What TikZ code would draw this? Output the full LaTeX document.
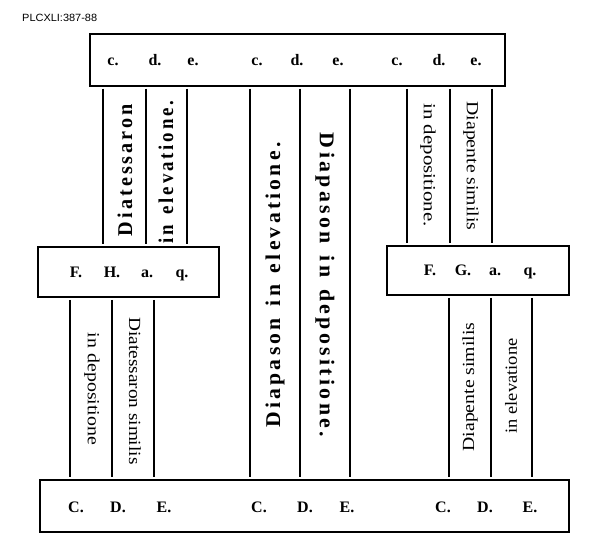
\documentclass[tikz,border=0pt]{standalone}
\usepackage{fontspec}
\setmainfont{Liberation Serif}
\newfontfamily\spacedf[LetterSpace=15]{Liberation Serif}
\newfontfamily\headf{Liberation Sans}
\newcommand{\fitw}[2]{\resizebox{#1pt}{\height}{#2}}
\newcommand{\wgap}{\hspace{0.55em}}
\begin{document}
\begin{tikzpicture}[x=1pt,y=-1pt,
  box/.style={draw, line width=1.5pt, inner sep=0pt},
  lab/.style={font=\bfseries\fontsize{16}{16}\selectfont, inner sep=0pt, anchor=base},
  rule/.style={line width=1.5pt, shorten <=2pt, shorten >=2pt},
  mtext/.style={inner sep=0pt, font=\spacedf\bfseries\fontsize{21}{21}\selectfont},
  stext/.style={inner sep=0pt, font=\fontsize{17}{17}\selectfont}]
\useasboundingbox[fill=white] (0,0) rectangle (602,540);

\node[anchor=west, inner sep=0pt] (hdr) at (22,18) {\headf\fontsize{10.5}{10.5}\selectfont\fitw{75}{PLCXLI:387-88}};

% boxes
\node[box, minimum width=415pt, minimum height=52pt] (top) at (297.5,60) {};
\node[box, minimum width=181pt, minimum height=50pt] (fha) at (128.5,272) {};
\node[box, minimum width=182pt, minimum height=49pt] (fga) at (478,270.5) {};
\node[box, minimum width=529pt, minimum height=52pt] (bot) at (304.5,506) {};

% top labels
\node[lab] (t1) at (113,66) {c.};
\node[lab] (t2) at (155,66) {d.};
\node[lab] (t3) at (193,66) {e.};
\node[lab] (t4) at (257,66) {c.};
\node[lab] (t5) at (297,66) {d.};
\node[lab] (t6) at (338,66) {e.};
\node[lab] (t7) at (397,66) {c.};
\node[lab] (t8) at (439,66) {d.};
\node[lab] (t9) at (476,66) {e.};

% middle labels
\node[lab] (l1) at (76,277) {F.};
\node[lab] (l2) at (112,277) {H.};
\node[lab] (l3) at (147,277) {a.};
\node[lab] (l4) at (182,277) {q.};
\node[lab] (r1) at (430,275) {F.};
\node[lab] (r2) at (463,275) {G.};
\node[lab] (r3) at (495,275) {a.};
\node[lab] (r4) at (530,275) {q.};

% bottom labels
\node[lab] (b1) at (76,512) {C.};
\node[lab] (b2) at (118,512) {D.};
\node[lab] (b3) at (164,512) {E.};
\node[lab] (b4) at (259,512) {C.};
\node[lab] (b5) at (305,512) {D.};
\node[lab] (b6) at (347,512) {E.};
\node[lab] (b7) at (443,512) {C.};
\node[lab] (b8) at (485,512) {D.};
\node[lab] (b9) at (530,512) {E.};

% connectors
\foreach \x in {103,146,187} \draw[rule] (\x,0 |- top.south) -- (\x,0 |- fha.north);
\foreach \x in {250,300,350} \draw[rule] (\x,0 |- top.south) -- (\x,0 |- bot.north);
\foreach \x in {407,450,492} \draw[rule] (\x,0 |- top.south) -- (\x,0 |- fga.north);
\foreach \x in {70,112,154} \draw[rule] (\x,0 |- fha.south) -- (\x,0 |- bot.north);
\foreach \x in {449,491,532} \draw[rule] (\x,0 |- fga.south) -- (\x,0 |- bot.north);

% vertical texts
\node[mtext, rotate=90] (v1) at (125,170) {\fitw{132}{Diatessaron}};
\node[mtext, rotate=90] (v2) at (166,172) {\fitw{143}{in\wgap elevatione.}};
\node[mtext, rotate=90] (v3) at (275,285) {\fitw{285}{Diapason\wgap in\wgap elevatione.}};
\node[mtext, rotate=-90] (v4) at (325,285) {\fitw{304}{Diapason\wgap in\wgap depositione.}};
\node[stext, rotate=-90] (v5) at (428,165) {\fitw{123}{in depositione.}};
\node[stext, rotate=-90] (v6) at (471,166) {\fitw{129}{Diapente similis}};
\node[stext, rotate=-90] (v7) at (92,389) {\fitw{112}{in depositione}};
\node[stext, rotate=-90] (v8) at (135,391) {\fitw{147}{Diatessaron similis}};
\node[stext, rotate=90] (v9) at (470,387) {\fitw{129}{Diapente similis}};
\node[stext, rotate=90] (v10) at (511,386) {\fitw{95}{in elevatione}};
\end{tikzpicture}
\end{document}
